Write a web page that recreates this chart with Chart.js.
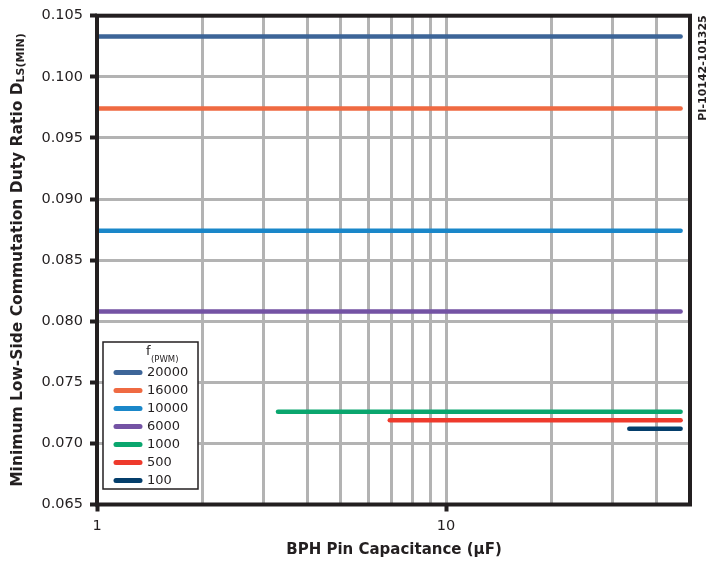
<!DOCTYPE html>
<html lang="en">
<head>
    <meta charset="UTF-8">
    <title>Minimum Low-Side Commutation Duty Ratio</title>
    <script src="https://cdn.jsdelivr.net/npm/chart.js"></script>
    <style>
        html, body { margin: 0; padding: 0; background: #ffffff; }
        #wrap { width: 708px; height: 563px; }
    </style>
</head>
<body>
    <div id="wrap"><canvas id="dutyChart" width="708" height="563"></canvas></div>
    <script>
        const freqLabels = ['20000', '16000', '10000', '6000', '1000', '500', '100'];
        const dutyRatio = [0.1033, 0.0974, 0.0874, 0.0808, 0.0726, 0.0719, 0.0712];
        const capStart = [1, 1, 1, 1, 3.3, 6.9, 33.5];
        const capEnd = [47, 47, 47, 47, 47, 47, 47];
        const xGridValues = [1, 2, 3, 4, 5, 6, 7, 8, 9, 10, 20, 30, 40, 50];
        const xTickLabels = [1, 10];
        const lineColors = ['#3d6598', '#ef6a42', '#1a87c9', '#7453a4', '#0aa66e', '#ee3a2c', '#043e6b'];

        const FONT = '"DejaVu Sans", Verdana, sans-serif';
        const INK = '#231f20';

        // frame, axis titles, side id and the legend box
        const decorations = {
            id: 'decorations',
            afterDraw(chart) {
                const ctx = chart.ctx;
                const a = chart.chartArea;
                ctx.save();
                ctx.strokeStyle = INK;
                ctx.lineWidth = 4;
                ctx.strokeRect(a.left, a.top, a.right - a.left, a.bottom - a.top);

                // y title with subscript
                ctx.fillStyle = INK;
                ctx.save();
                ctx.translate(18, 260);
                ctx.rotate(-Math.PI / 2);
                const main = 'Minimum Low-Side Commutation Duty Ratio D';
                const sub = 'LS(MIN)';
                ctx.font = 'bold 15.5px ' + FONT;
                const wMain = ctx.measureText(main).width;
                ctx.font = 'bold 11px ' + FONT;
                const wSub = ctx.measureText(sub).width;
                const x0 = -(wMain + wSub) / 2;
                ctx.textBaseline = 'middle';
                ctx.textAlign = 'left';
                ctx.font = 'bold 15.5px ' + FONT;
                ctx.fillText(main, x0, 0);
                ctx.font = 'bold 11px ' + FONT;
                ctx.fillText(sub, x0 + wMain, 3);
                ctx.restore();

                // x title
                ctx.font = 'bold 15px ' + FONT;
                ctx.textAlign = 'center';
                ctx.textBaseline = 'middle';
                ctx.fillText('BPH Pin Capacitance (\u03bcF)', 394, 550);

                // side id
                ctx.save();
                ctx.translate(703, 68);
                ctx.rotate(-Math.PI / 2);
                ctx.font = 'bold 11px ' + FONT;
                ctx.fillText('PI-10142-101325', 0, 0);
                ctx.restore();

                // legend
                ctx.fillStyle = '#ffffff';
                ctx.fillRect(103, 342, 95, 147);
                ctx.strokeStyle = INK;
                ctx.lineWidth = 1.5;
                ctx.strokeRect(103, 342, 95, 147);
                ctx.fillStyle = INK;
                ctx.textAlign = 'left';
                ctx.font = '13px ' + FONT;
                ctx.fillText('f', 146, 352);
                ctx.font = '8.5px ' + FONT;
                ctx.fillText('(PWM)', 151, 360);
                freqLabels.forEach((lab, i) => {
                    const y = 372.5 + i * 18;
                    ctx.strokeStyle = lineColors[i];
                    ctx.lineWidth = 5;
                    ctx.lineCap = 'round';
                    ctx.beginPath();
                    ctx.moveTo(116, y);
                    ctx.lineTo(140, y);
                    ctx.stroke();
                    ctx.fillStyle = INK;
                    ctx.font = '13px ' + FONT;
                    ctx.fillText(lab, 147, y + 0.5);
                });
                ctx.restore();
            }
        };

        new Chart(document.getElementById('dutyChart').getContext('2d'), {
            type: 'line',
            data: {
                datasets: freqLabels.map((lab, i) => ({
                    label: lab,
                    data: [{ x: capStart[i], y: dutyRatio[i] }, { x: capEnd[i], y: dutyRatio[i] }],
                    borderColor: lineColors[i],
                    borderWidth: 4.5,
                    borderCapStyle: 'round',
                    pointRadius: 0,
                    fill: false
                }))
            },
            options: {
                responsive: false,
                animation: false,
                events: [],
                layout: { padding: { top: 13, right: 18, left: 0, bottom: 0 } },
                plugins: { legend: { display: false }, tooltip: { enabled: false } },
                scales: {
                    x: {
                        type: 'logarithmic',
                        min: 1,
                        max: 50,
                        border: { display: false },
                        afterBuildTicks: s => { s.ticks = xGridValues.map(v => ({ value: v, major: xTickLabels.includes(v) })); },
                        grid: {
                            color: '#b3b3b3',
                            lineWidth: 3,
                            tickLength: 7,
                            tickWidth: 4,
                            tickColor: c => xTickLabels.includes(c.tick && c.tick.value) ? INK : 'rgba(0,0,0,0)'
                        },
                        ticks: {
                            autoSkip: false,
                            maxRotation: 0,
                            padding: 6,
                            color: INK,
                            font: { family: FONT, size: 14.5 },
                            callback: v => xTickLabels.includes(v) ? String(v) : ''
                        },
                        afterFit: s => { s.height = 58.5; }
                    },
                    y: {
                        min: 0.065,
                        max: 0.105,
                        border: { display: false },
                        grid: {
                            color: '#b3b3b3',
                            lineWidth: 3,
                            tickLength: 7,
                            tickWidth: 4,
                            tickColor: INK
                        },
                        ticks: {
                            stepSize: 0.005,
                            padding: 7,
                            color: INK,
                            font: { family: FONT, size: 14.5 },
                            callback: v => v.toFixed(3)
                        },
                        afterFit: s => { s.width = 97; }
                    }
                }
            },
            plugins: [decorations]
        });
    </script>
</body>
</html>
